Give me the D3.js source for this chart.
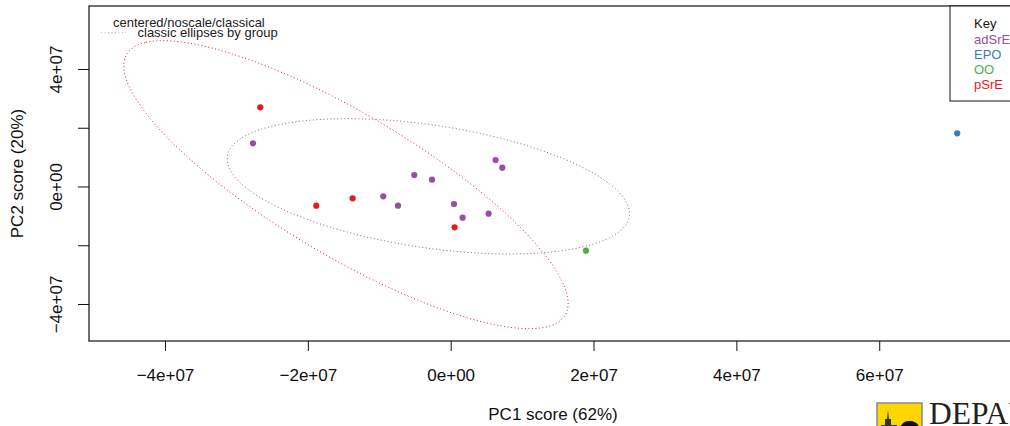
<!DOCTYPE html>
<html>
<head>
<meta charset="utf-8">
<script src="https://cdn.jsdelivr.net/npm/d3@7"></script>
<style>
  html, body { margin: 0; padding: 0; background: #fff; }
  svg { display: block; font-family: "Liberation Sans", Arial, sans-serif; }
</style>
</head>
<body>
<svg id="chart" width="1010" height="426"></svg>
<script>
// PCA scores (PC1, PC2) for each sample, with its group
const sampleGroup = ["pSrE", "pSrE", "pSrE", "pSrE",
  "adSrE", "adSrE", "adSrE", "adSrE", "adSrE", "adSrE", "adSrE", "adSrE", "adSrE", "adSrE",
  "OO", "EPO"];
const pc1 = [-2.666e7, -1.882e7, -1.373e7, 0.055e7,
  -2.768e7, -0.944e7, -0.738e7, -0.510e7, -0.262e7, 0.046e7, 0.167e7, 0.531e7, 0.629e7, 0.722e7,
  1.894e7, 7.092e7];
const pc2 = [2.696e7, -0.654e7, -0.402e7, -1.390e7,
  1.471e7, -0.334e7, -0.654e7, 0.391e7, 0.231e7, -0.596e7, -1.062e7, -0.926e7, 0.902e7, 0.640e7,
  -2.186e7, 1.811e7];

// Key order and group colours
const groups = ["adSrE", "EPO", "OO", "pSrE"];
const groupColors = ["#984EA3", "#377EB8", "#4DAF4A", "#E41A1C"];

// Axis ticks
const xTicks = [-4e7, -2e7, 0, 2e7, 4e7, 6e7];
const xTickLabels = ["\u22124e+07", "\u22122e+07", "0e+00", "2e+07", "4e+07", "6e+07"];
const yTicks = [-4e7, -2e7, 0, 2e7, 4e7];
const yTickLabels = ["\u22124e+07", "", "0e+00", "", "4e+07"];

const xLabel = "PC1 score (62%)";
const yLabel = "PC2 score (20%)";
const title = "centered/noscale/classical";
const ellipseNote = "classic ellipses by group";
const confLevel = 0.975;

const svg = d3.select("#chart");
const plot = { left: 89, right: 1017, top: 6, bottom: 341 };

const x = d3.scaleLinear().domain([-5.064e7, 7.929e7]).range([plot.left, plot.right]);
const y = d3.scaleLinear().domain([-5.26e7, 6.145e7]).range([plot.bottom, plot.top]);
const color = d3.scaleOrdinal().domain(groups).range(groupColors);

// clip for everything inside the plot box
svg.append("defs").append("clipPath").attr("id", "plotClip")
  .append("rect")
  .attr("x", plot.left).attr("y", plot.top)
  .attr("width", plot.right - plot.left).attr("height", plot.bottom - plot.top);

const samples = pc1.map((v, i) => ({ x: v, y: pc2[i], g: sampleGroup[i] }));

// classical covariance ellipses (chi-square, 2 df) for each group
const k = Math.sqrt(-2 * Math.log(1 - confLevel));
function ellipsePoints(pts) {
  const n = pts.length;
  const mx = d3.mean(pts, d => d.x), my = d3.mean(pts, d => d.y);
  let sxx = 0, syy = 0, sxy = 0;
  pts.forEach(d => {
    sxx += (d.x - mx) ** 2; syy += (d.y - my) ** 2; sxy += (d.x - mx) * (d.y - my);
  });
  sxx /= (n - 1); syy /= (n - 1); sxy /= (n - 1);
  const tr = sxx + syy, det = sxx * syy - sxy * sxy;
  const l1 = tr / 2 + Math.sqrt(tr * tr / 4 - det);
  const l2 = tr / 2 - Math.sqrt(tr * tr / 4 - det);
  const theta = Math.atan2(l1 - sxx, sxy);
  const a = k * Math.sqrt(l1), b = k * Math.sqrt(Math.max(l2, 0));
  const out = [];
  for (let i = 0; i <= 360; i++) {
    const t = i / 360 * 2 * Math.PI;
    const ex = a * Math.cos(t), ey = b * Math.sin(t);
    out.push([mx + ex * Math.cos(theta) - ey * Math.sin(theta),
              my + ex * Math.sin(theta) + ey * Math.cos(theta)]);
  }
  return out;
}

const inner = svg.append("g").attr("clip-path", "url(#plotClip)");
const line = d3.line().x(d => x(d[0])).y(d => y(d[1]));

groups.forEach(g => {
  const pts = samples.filter(d => d.g === g);
  if (pts.length < 3) return;
  inner.append("path")
    .attr("d", line(ellipsePoints(pts)))
    .attr("fill", "none")
    .attr("stroke", color(g))
    .attr("stroke-width", 1)
    .attr("stroke-dasharray", "1,2.5");
});

inner.selectAll("circle.pt").data(samples).join("circle")
  .attr("class", "pt")
  .attr("cx", d => x(d.x)).attr("cy", d => y(d.y))
  .attr("r", 3.1)
  .attr("fill", d => color(d.g));

// plot box
svg.append("rect")
  .attr("x", plot.left).attr("y", plot.top)
  .attr("width", plot.right - plot.left).attr("height", plot.bottom - plot.top)
  .attr("fill", "none").attr("stroke", "#111").attr("stroke-width", 1.2);

// axes
const xAxis = svg.append("g").attr("transform", `translate(0,${plot.bottom})`)
  .call(d3.axisBottom(x).tickValues(xTicks).tickSizeOuter(0).tickSize(10).tickPadding(0)
    .tickFormat((d, i) => xTickLabels[i]));
xAxis.select(".domain").remove();
xAxis.selectAll("line").attr("stroke", "#111");
xAxis.selectAll("text").attr("y", 40).attr("dy", null)
  .attr("font-size", 17).attr("font-family", "Liberation Sans, Arial, sans-serif").attr("fill", "#111");

const yAxis = svg.append("g").attr("transform", `translate(${plot.left},0)`)
  .call(d3.axisLeft(y).tickValues(yTicks).tickSizeOuter(0).tickSize(11)
    .tickFormat((d, i) => yTickLabels[i]));
yAxis.select(".domain").remove();
yAxis.selectAll("line").attr("stroke", "#111");
// tick labels rotated to read upward, baseline 27px left of the axis
yAxis.selectAll("text")
  .attr("x", 0).attr("y", -27).attr("dy", null)
  .attr("transform", "rotate(-90)")
  .attr("text-anchor", "middle")
  .attr("font-size", 17).attr("font-family", "Liberation Sans, Arial, sans-serif").attr("fill", "#111");

// axis titles
svg.append("text")
  .attr("x", (plot.left + plot.right) / 2).attr("y", 420)
  .attr("text-anchor", "middle").attr("font-size", 17).attr("fill", "#111")
  .text(xLabel);
svg.append("text")
  .attr("transform", `translate(23,${(plot.top + plot.bottom) / 2}) rotate(-90)`)
  .attr("text-anchor", "middle").attr("font-size", 17).attr("fill", "#111")
  .text(yLabel);

// description in the upper left
svg.append("text").attr("x", 113).attr("y", 26.5)
  .attr("font-size", 13).attr("fill", "#222").text(title);
svg.append("line").attr("x1", 101).attr("x2", 126).attr("y1", 32.5).attr("y2", 32.5)
  .attr("stroke", "#bbb").attr("stroke-width", 1).attr("stroke-dasharray", "1,2.5");
svg.append("text").attr("x", 137.5).attr("y", 36.5)
  .attr("font-size", 13).attr("fill", "#222").text(ellipseNote);

// key box
const key = svg.append("g");
key.append("rect").attr("x", 950).attr("y", plot.top).attr("width", 80).attr("height", 95)
  .attr("fill", "#fff").attr("stroke", "#111").attr("stroke-width", 1);
key.append("text").attr("x", 974).attr("y", 28).attr("font-size", 13).attr("fill", "#111").text("Key");
key.selectAll("text.grp").data(groups).join("text")
  .attr("class", "grp")
  .attr("x", 974).attr("y", (d, i) => 43.5 + i * 15.3)
  .attr("font-size", 13).attr("fill", d => color(d))
  .text(d => d);

// institution logo, lower right
const logo = svg.append("g").attr("transform", "translate(877,403)");
logo.append("rect").attr("x", 0).attr("y", 0).attr("width", 45).attr("height", 30)
  .attr("fill", "#FFD700").attr("stroke", "#8a8a8a").attr("stroke-width", 1.5);
logo.append("path")
  .attr("d", "M4,30 L4,22 L8,22 L8,16 L10,16 L11,7 L12,16 L14,16 L14,22 L20,22 L20,30 Z")
  .attr("fill", "#333");
logo.append("path")
  .attr("d", "M22,30 C22,23 26,18 32,18 C38,18 42,21 42,25 L42,30 Z")
  .attr("fill", "#111");
svg.append("text").attr("x", 929).attr("y", 424)
  .attr("font-family", "Liberation Serif, Times New Roman, serif")
  .attr("font-size", 31.5).attr("fill", "#222").text("DEPAUW");
</script>
</body>
</html>
